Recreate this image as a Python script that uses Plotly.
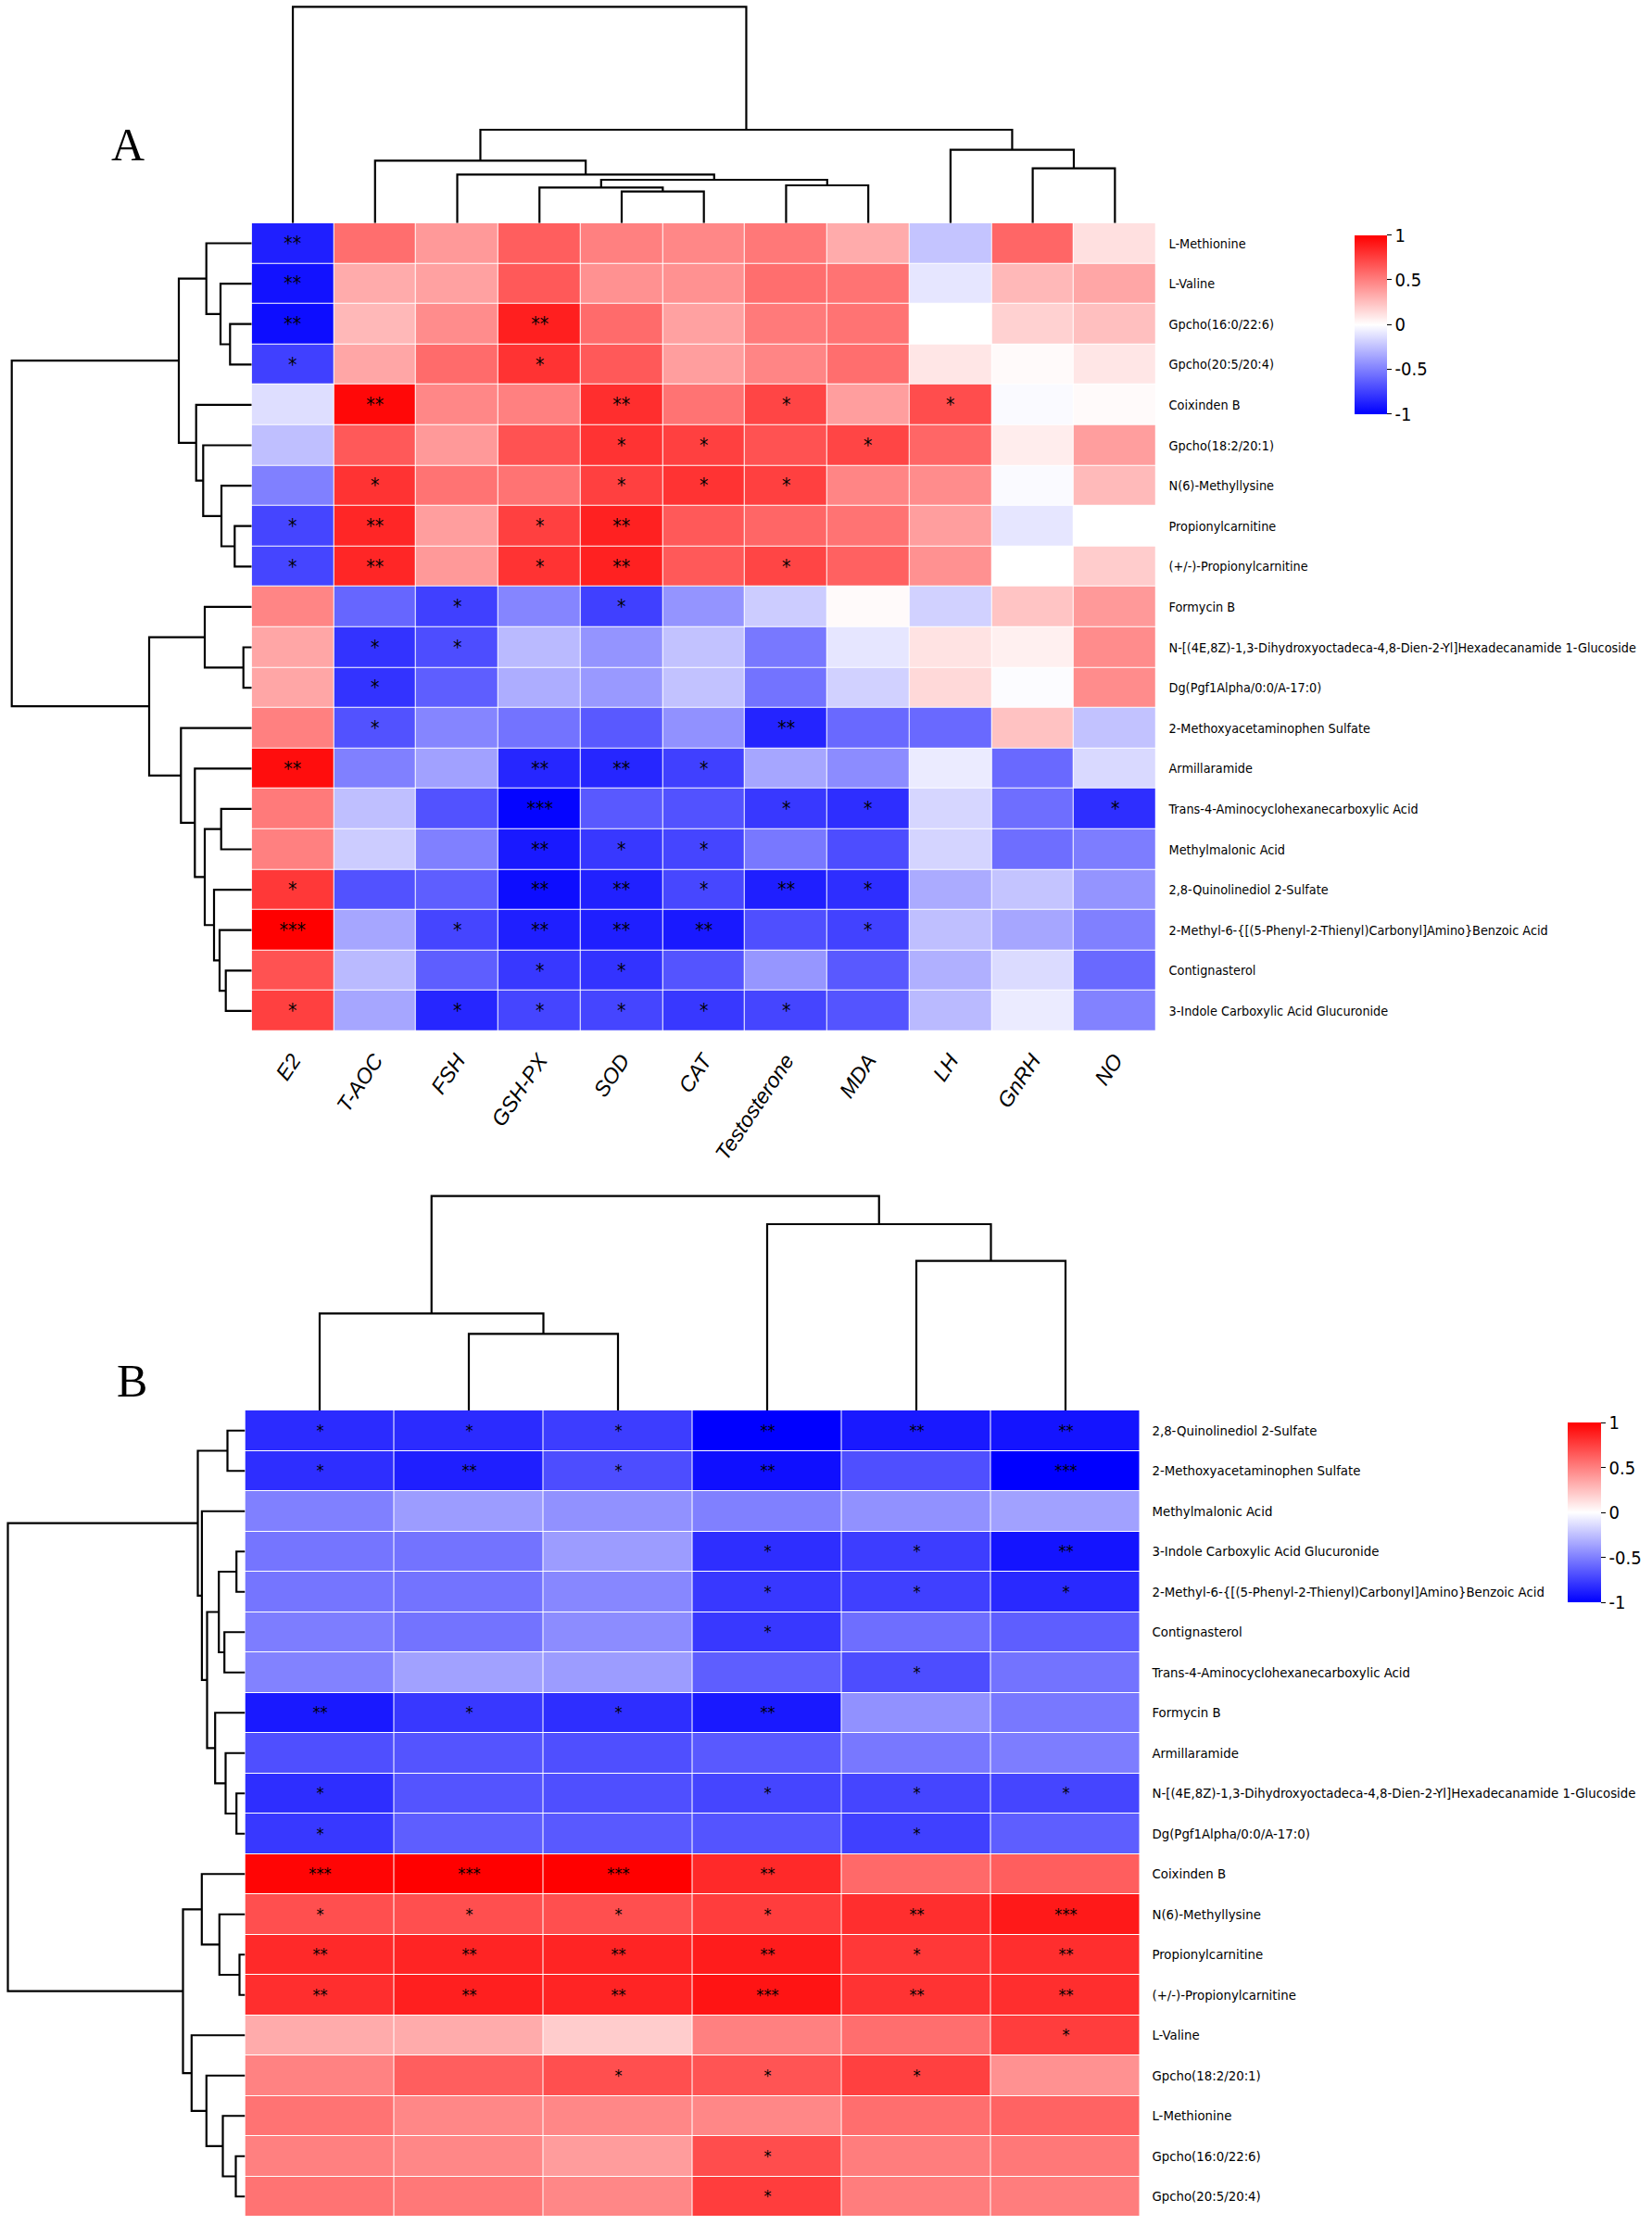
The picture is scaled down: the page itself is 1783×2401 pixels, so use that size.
import plotly.graph_objects as go

W, H = 1783, 2401

# ---------------- Panel A data ----------------
A_cols = ["E2", "T-AOC", "FSH", "GSH-PX", "SOD", "CAT", "Testosterone", "MDA", "LH", "GnRH", "NO"]
A_rows = [
    "L-Methionine", "L-Valine", "Gpcho(16:0/22:6)", "Gpcho(20:5/20:4)", "Coixinden B",
    "Gpcho(18:2/20:1)", "N(6)-Methyllysine", "Propionylcarnitine", "(+/-)-Propionylcarnitine",
    "Formycin B", "N-[(4E,8Z)-1,3-Dihydroxyoctadeca-4,8-Dien-2-Yl]Hexadecanamide 1-Glucoside",
    "Dg(Pgf1Alpha/0:0/A-17:0)", "2-Methoxyacetaminophen Sulfate", "Armillaramide",
    "Trans-4-Aminocyclohexanecarboxylic Acid", "Methylmalonic Acid", "2,8-Quinolinediol 2-Sulfate",
    "2-Methyl-6-{[(5-Phenyl-2-Thienyl)Carbonyl]Amino}Benzoic Acid", "Contignasterol",
    "3-Indole Carboxylic Acid Glucuronide",
]
A_vals = [
    [-0.88, 0.57, 0.40, 0.63, 0.50, 0.47, 0.53, 0.33, -0.23, 0.60, 0.12],
    [-0.93, 0.33, 0.37, 0.65, 0.43, 0.43, 0.57, 0.55, -0.10, 0.28, 0.35],
    [-0.95, 0.28, 0.45, 0.88, 0.58, 0.37, 0.52, 0.55, 0.00, 0.18, 0.25],
    [-0.75, 0.35, 0.58, 0.80, 0.65, 0.38, 0.48, 0.57, 0.10, 0.02, 0.10],
    [-0.13, 0.97, 0.47, 0.50, 0.82, 0.55, 0.73, 0.38, 0.70, -0.02, 0.02],
    [-0.25, 0.65, 0.40, 0.68, 0.80, 0.75, 0.68, 0.73, 0.60, 0.07, 0.38],
    [-0.50, 0.80, 0.55, 0.55, 0.75, 0.80, 0.75, 0.48, 0.45, -0.02, 0.27],
    [-0.73, 0.85, 0.38, 0.75, 0.87, 0.65, 0.60, 0.55, 0.38, -0.10, 0.00],
    [-0.73, 0.85, 0.40, 0.80, 0.87, 0.65, 0.73, 0.62, 0.43, 0.00, 0.20],
    [0.48, -0.60, -0.75, -0.48, -0.75, -0.42, -0.20, 0.02, -0.18, 0.23, 0.40],
    [0.35, -0.80, -0.70, -0.27, -0.42, -0.24, -0.53, -0.10, 0.11, 0.06, 0.45],
    [0.35, -0.80, -0.63, -0.32, -0.40, -0.24, -0.55, -0.18, 0.15, -0.01, 0.45],
    [0.50, -0.68, -0.48, -0.55, -0.65, -0.43, -0.86, -0.59, -0.59, 0.24, -0.24],
    [0.95, -0.50, -0.37, -0.85, -0.85, -0.75, -0.35, -0.45, -0.08, -0.59, -0.15],
    [0.52, -0.25, -0.68, -0.98, -0.65, -0.68, -0.78, -0.82, -0.16, -0.57, -0.82],
    [0.50, -0.20, -0.50, -0.90, -0.78, -0.73, -0.53, -0.70, -0.17, -0.57, -0.51],
    [0.78, -0.68, -0.63, -0.95, -0.87, -0.72, -0.88, -0.82, -0.33, -0.23, -0.42],
    [1.00, -0.35, -0.73, -0.88, -0.88, -0.90, -0.69, -0.74, -0.25, -0.35, -0.50],
    [0.68, -0.27, -0.63, -0.78, -0.80, -0.67, -0.41, -0.65, -0.31, -0.14, -0.59],
    [0.75, -0.35, -0.85, -0.73, -0.73, -0.78, -0.73, -0.67, -0.27, -0.08, -0.49],
]
A_stars = [
    ["**", "", "", "", "", "", "", "", "", "", ""],
    ["**", "", "", "", "", "", "", "", "", "", ""],
    ["**", "", "", "**", "", "", "", "", "", "", ""],
    ["*", "", "", "*", "", "", "", "", "", "", ""],
    ["", "**", "", "", "**", "", "*", "", "*", "", ""],
    ["", "", "", "", "*", "*", "", "*", "", "", ""],
    ["", "*", "", "", "*", "*", "*", "", "", "", ""],
    ["*", "**", "", "*", "**", "", "", "", "", "", ""],
    ["*", "**", "", "*", "**", "", "*", "", "", "", ""],
    ["", "", "*", "", "*", "", "", "", "", "", ""],
    ["", "*", "*", "", "", "", "", "", "", "", ""],
    ["", "*", "", "", "", "", "", "", "", "", ""],
    ["", "*", "", "", "", "", "**", "", "", "", ""],
    ["**", "", "", "**", "**", "*", "", "", "", "", ""],
    ["", "", "", "***", "", "", "*", "*", "", "", "*"],
    ["", "", "", "**", "*", "*", "", "", "", "", ""],
    ["*", "", "", "**", "**", "*", "**", "*", "", "", ""],
    ["***", "", "*", "**", "**", "**", "", "*", "", "", ""],
    ["", "", "", "*", "*", "", "", "", "", "", ""],
    ["*", "", "*", "*", "*", "*", "*", "", "", "", ""],
]
# dendrogram merges (leaf i < n, merge k -> n + k), heights in distance units
A_col_left = [4, 3, 6, 12, 2, 1, 9, 8, 16, 0]
A_col_right = [5, 11, 7, 13, 14, 15, 10, 17, 18, 19]
A_col_height = [34.0, 38.4, 40.7, 46.7, 52.4, 67.4, 59.0, 79.0, 100.7, 233.4]

A_row_left = [2, 1, 0, 7, 6, 5, 4, 22, 10, 9, 18, 17, 16, 14, 33, 13, 12, 29, 27]
A_row_right = [3, 20, 21, 8, 23, 24, 25, 26, 11, 28, 19, 30, 31, 15, 32, 34, 35, 36, 37]
A_row_height = [23.4, 33.7, 49.0, 18.4, 32.7, 52.4, 60.0, 78.7, 9.0, 50.7, 28.0, 34.7,
                40.7, 33.0, 50.7, 61.4, 76.4, 110.7, 259.0]

# ---------------- Panel B data ----------------
B_rows = [
    "2,8-Quinolinediol 2-Sulfate", "2-Methoxyacetaminophen Sulfate", "Methylmalonic Acid",
    "3-Indole Carboxylic Acid Glucuronide",
    "2-Methyl-6-{[(5-Phenyl-2-Thienyl)Carbonyl]Amino}Benzoic Acid", "Contignasterol",
    "Trans-4-Aminocyclohexanecarboxylic Acid", "Formycin B", "Armillaramide",
    "N-[(4E,8Z)-1,3-Dihydroxyoctadeca-4,8-Dien-2-Yl]Hexadecanamide 1-Glucoside",
    "Dg(Pgf1Alpha/0:0/A-17:0)", "Coixinden B", "N(6)-Methyllysine", "Propionylcarnitine",
    "(+/-)-Propionylcarnitine", "L-Valine", "Gpcho(18:2/20:1)", "L-Methionine",
    "Gpcho(16:0/22:6)", "Gpcho(20:5/20:4)",
]
B_vals = [
    [-0.83, -0.83, -0.76, -1.00, -0.90, -0.92],
    [-0.82, -0.88, -0.70, -0.94, -0.69, -1.00],
    [-0.50, -0.39, -0.43, -0.50, -0.43, -0.37],
    [-0.54, -0.55, -0.39, -0.82, -0.76, -0.92],
    [-0.54, -0.55, -0.47, -0.78, -0.75, -0.84],
    [-0.51, -0.55, -0.45, -0.78, -0.57, -0.63],
    [-0.49, -0.37, -0.39, -0.63, -0.70, -0.55],
    [-0.90, -0.78, -0.82, -0.90, -0.43, -0.53],
    [-0.69, -0.67, -0.69, -0.65, -0.53, -0.51],
    [-0.82, -0.67, -0.69, -0.73, -0.73, -0.73],
    [-0.78, -0.63, -0.65, -0.67, -0.75, -0.63],
    [0.98, 1.00, 1.00, 0.84, 0.59, 0.63],
    [0.69, 0.69, 0.69, 0.76, 0.82, 0.90],
    [0.84, 0.86, 0.86, 0.89, 0.78, 0.82],
    [0.82, 0.88, 0.86, 0.92, 0.80, 0.82],
    [0.33, 0.33, 0.20, 0.50, 0.57, 0.76],
    [0.49, 0.63, 0.69, 0.67, 0.75, 0.43],
    [0.55, 0.47, 0.47, 0.47, 0.57, 0.61],
    [0.50, 0.47, 0.39, 0.70, 0.51, 0.53],
    [0.55, 0.53, 0.47, 0.76, 0.51, 0.51],
]
B_stars = [
    ["*", "*", "*", "**", "**", "**"],
    ["*", "**", "*", "**", "", "***"],
    ["", "", "", "", "", ""],
    ["", "", "", "*", "*", "**"],
    ["", "", "", "*", "*", "*"],
    ["", "", "", "*", "", ""],
    ["", "", "", "", "*", ""],
    ["**", "*", "*", "**", "", ""],
    ["", "", "", "", "", ""],
    ["*", "", "", "*", "*", "*"],
    ["*", "", "", "", "*", ""],
    ["***", "***", "***", "**", "", ""],
    ["*", "*", "*", "*", "**", "***"],
    ["**", "**", "**", "**", "*", "**"],
    ["**", "**", "**", "***", "**", "**"],
    ["", "", "", "", "", "*"],
    ["", "", "*", "*", "*", ""],
    ["", "", "", "", "", ""],
    ["", "", "", "*", "", ""],
    ["", "", "", "*", "", ""],
]
B_col_left = [1, 0, 4, 3, 7]
B_col_right = [2, 6, 5, 8, 9]
B_col_height = [82.7, 104.7, 161.3, 201.0, 231.3]

B_row_left = [0, 3, 5, 21, 9, 8, 7, 23, 2, 20, 13, 12, 11, 18, 17, 16, 15, 32, 29]
B_row_right = [1, 4, 6, 22, 10, 24, 25, 26, 27, 28, 14, 30, 31, 19, 33, 34, 35, 36, 37]
B_row_height = [19.0, 9.3, 22.3, 28.3, 9.3, 21.0, 32.3, 41.0, 46.6, 51.0, 6.0, 27.7,
                46.7, 10.0, 24.0, 41.7, 57.7, 67.0, 256.0]

cbar_vals = [1, 0.5, 0, -0.5, -1]
cbar_text = ["1", "0.5", "0", "-0.5", "-1"]


def dendro(left, right, height, n):
    pos = [float(i) for i in range(n)]
    hts = [0.0] * n
    xs, ys = [], []
    for a, b, h in zip(left, right, height):
        pa, pb, ha, hb = pos[a], pos[b], hts[a], hts[b]
        xs += [pa, pa, pb, pb, None]
        ys += [ha, h, h, hb, None]
        pos.append((pa + pb) / 2)
        hts.append(h)
    return xs, ys


def dx(a, b):
    return [a / W, b / W]


def dy(top, bottom):
    return [1 - bottom / H, 1 - top / H]


# pixel geometry
A_L, A_R, A_T, A_B = 271.7, 1247.7, 240.7, 1112.7
B_L, B_R, B_T, B_B = 264.5, 1230.5, 1522.0, 2392.0
B_DT = 1270.0

colorscale = [[0, "#0000FF"], [0.5, "#FFFFFF"], [1, "#FF0000"]]
row_font = "Liberation Sans Narrow, DejaVu Sans Condensed, Arial Narrow, sans-serif"
line = dict(color="black", width=2.2)

fig = go.Figure()

fig.add_trace(go.Heatmap(
    z=A_vals, x=list(range(len(A_cols))), y=list(range(len(A_rows))),
    text=A_stars, texttemplate="%{text}",
    textfont=dict(size=21, color="black", family="DejaVu Sans Condensed, sans-serif"),
    colorscale=colorscale, zmin=-1, zmax=1, xgap=1, ygap=1, hoverinfo="skip",
    xaxis="x", yaxis="y",
    colorbar=dict(x=1462 / W, xanchor="left", y=1 - 350 / H, yanchor="middle",
                  len=193, lenmode="pixels", thickness=35, thicknessmode="pixels",
                  xpad=0, ypad=0, outlinewidth=0, tickvals=cbar_vals, ticktext=cbar_text,
                  ticks="outside", ticklen=5, tickcolor="black",
                  tickfont=dict(size=20, family=row_font, color="black")),
))
fig.add_trace(go.Heatmap(
    z=B_vals, x=list(range(6)), y=list(range(len(B_rows))),
    text=B_stars, texttemplate="%{text}",
    textfont=dict(size=18, color="black", family="DejaVu Sans Condensed, sans-serif"),
    colorscale=colorscale, zmin=-1, zmax=1, xgap=1, ygap=1, hoverinfo="skip",
    xaxis="x4", yaxis="y4",
    colorbar=dict(x=1692 / W, xanchor="left", y=1 - 1632 / H, yanchor="middle",
                  len=194, lenmode="pixels", thickness=36, thicknessmode="pixels",
                  xpad=0, ypad=0, outlinewidth=0, tickvals=cbar_vals, ticktext=cbar_text,
                  ticks="outside", ticklen=5, tickcolor="black",
                  tickfont=dict(size=20, family=row_font, color="black")),
))

# dendrograms
xs, ys = dendro(A_col_left, A_col_right, A_col_height, len(A_cols))
fig.add_trace(go.Scatter(x=xs, y=ys, mode="lines", line=line, hoverinfo="skip",
                         xaxis="x2", yaxis="y2", showlegend=False))
xs, ys = dendro(A_row_left, A_row_right, A_row_height, len(A_rows))
fig.add_trace(go.Scatter(x=ys, y=xs, mode="lines", line=line, hoverinfo="skip",
                         xaxis="x3", yaxis="y3", showlegend=False))
xs, ys = dendro(B_col_left, B_col_right, B_col_height, 6)
fig.add_trace(go.Scatter(x=xs, y=ys, mode="lines", line=line, hoverinfo="skip",
                         xaxis="x5", yaxis="y5", showlegend=False))
xs, ys = dendro(B_row_left, B_row_right, B_row_height, len(B_rows))
fig.add_trace(go.Scatter(x=ys, y=xs, mode="lines", line=line, hoverinfo="skip",
                         xaxis="x6", yaxis="y6", showlegend=False))

hidden = dict(visible=False, showgrid=False, zeroline=False, fixedrange=True)
fig.update_layout(
    width=W, height=H, autosize=False,
    margin=dict(l=0, r=0, t=0, b=0, pad=0),
    paper_bgcolor="white", plot_bgcolor="white", showlegend=False,
    font=dict(family="Liberation Sans, Arial, sans-serif", color="black"),
    xaxis=dict(domain=dx(A_L, A_R), range=[-0.5, 10.5], tickmode="array",
               tickvals=list(range(len(A_cols))), ticktext=A_cols, tickangle=-56,
               tickfont=dict(size=23, style="italic", family="Liberation Sans, Arial, sans-serif"),
               ticks="outside", ticklen=8, tickcolor="rgba(0,0,0,0)",
               showgrid=False, zeroline=False, showline=False, automargin=False),
    yaxis=dict(domain=dy(A_T, A_B), range=[len(A_rows) - 0.5, -0.5], side="right",
               tickmode="array", tickvals=list(range(len(A_rows))), ticktext=A_rows,
               tickfont=dict(size=14.3, family=row_font),
               ticks="outside", ticklen=10, tickcolor="rgba(0,0,0,0)",
               showgrid=False, zeroline=False, showline=False, automargin=False),
    xaxis2=dict(domain=dx(A_L, A_R), range=[-0.5, 10.5], anchor="y2", **hidden),
    yaxis2=dict(domain=dy(0, A_T), range=[0, A_T], anchor="x2", **hidden),
    xaxis3=dict(domain=dx(0, A_L), range=[A_L, 0], anchor="y3", **hidden),
    yaxis3=dict(domain=dy(A_T, A_B), range=[len(A_rows) - 0.5, -0.5], anchor="x3", **hidden),
    xaxis4=dict(domain=dx(B_L, B_R), range=[-0.5, 5.5], anchor="y4", **hidden),
    yaxis4=dict(domain=dy(B_T, B_B), range=[len(B_rows) - 0.5, -0.5], side="right",
                anchor="x4", tickmode="array", tickvals=list(range(len(B_rows))),
                ticktext=B_rows, tickfont=dict(size=14.8, family=row_font),
                ticks="outside", ticklen=9, tickcolor="rgba(0,0,0,0)",
                showgrid=False, zeroline=False, showline=False, automargin=False),
    xaxis5=dict(domain=dx(B_L, B_R), range=[-0.5, 5.5], anchor="y5", **hidden),
    yaxis5=dict(domain=dy(B_DT, B_T), range=[0, B_T - B_DT], anchor="x5", **hidden),
    xaxis6=dict(domain=dx(0, B_L), range=[B_L, 0], anchor="y6", **hidden),
    yaxis6=dict(domain=dy(B_T, B_B), range=[len(B_rows) - 0.5, -0.5], anchor="x6", **hidden),
    annotations=[
        dict(text="A", x=138 / W, y=1 - 156 / H, xref="paper", yref="paper",
             showarrow=False, xanchor="center", yanchor="middle",
             font=dict(size=50, family="Liberation Serif, Times New Roman, serif")),
        dict(text="B", x=142 / W, y=1 - 1490 / H, xref="paper", yref="paper",
             showarrow=False, xanchor="center", yanchor="middle",
             font=dict(size=50, family="Liberation Serif, Times New Roman, serif")),
    ],
)

fig.write_html("out.html", config={"displayModeBar": False},
               post_script="document.body.style.margin='0';document.body.style.overflow='hidden';")
